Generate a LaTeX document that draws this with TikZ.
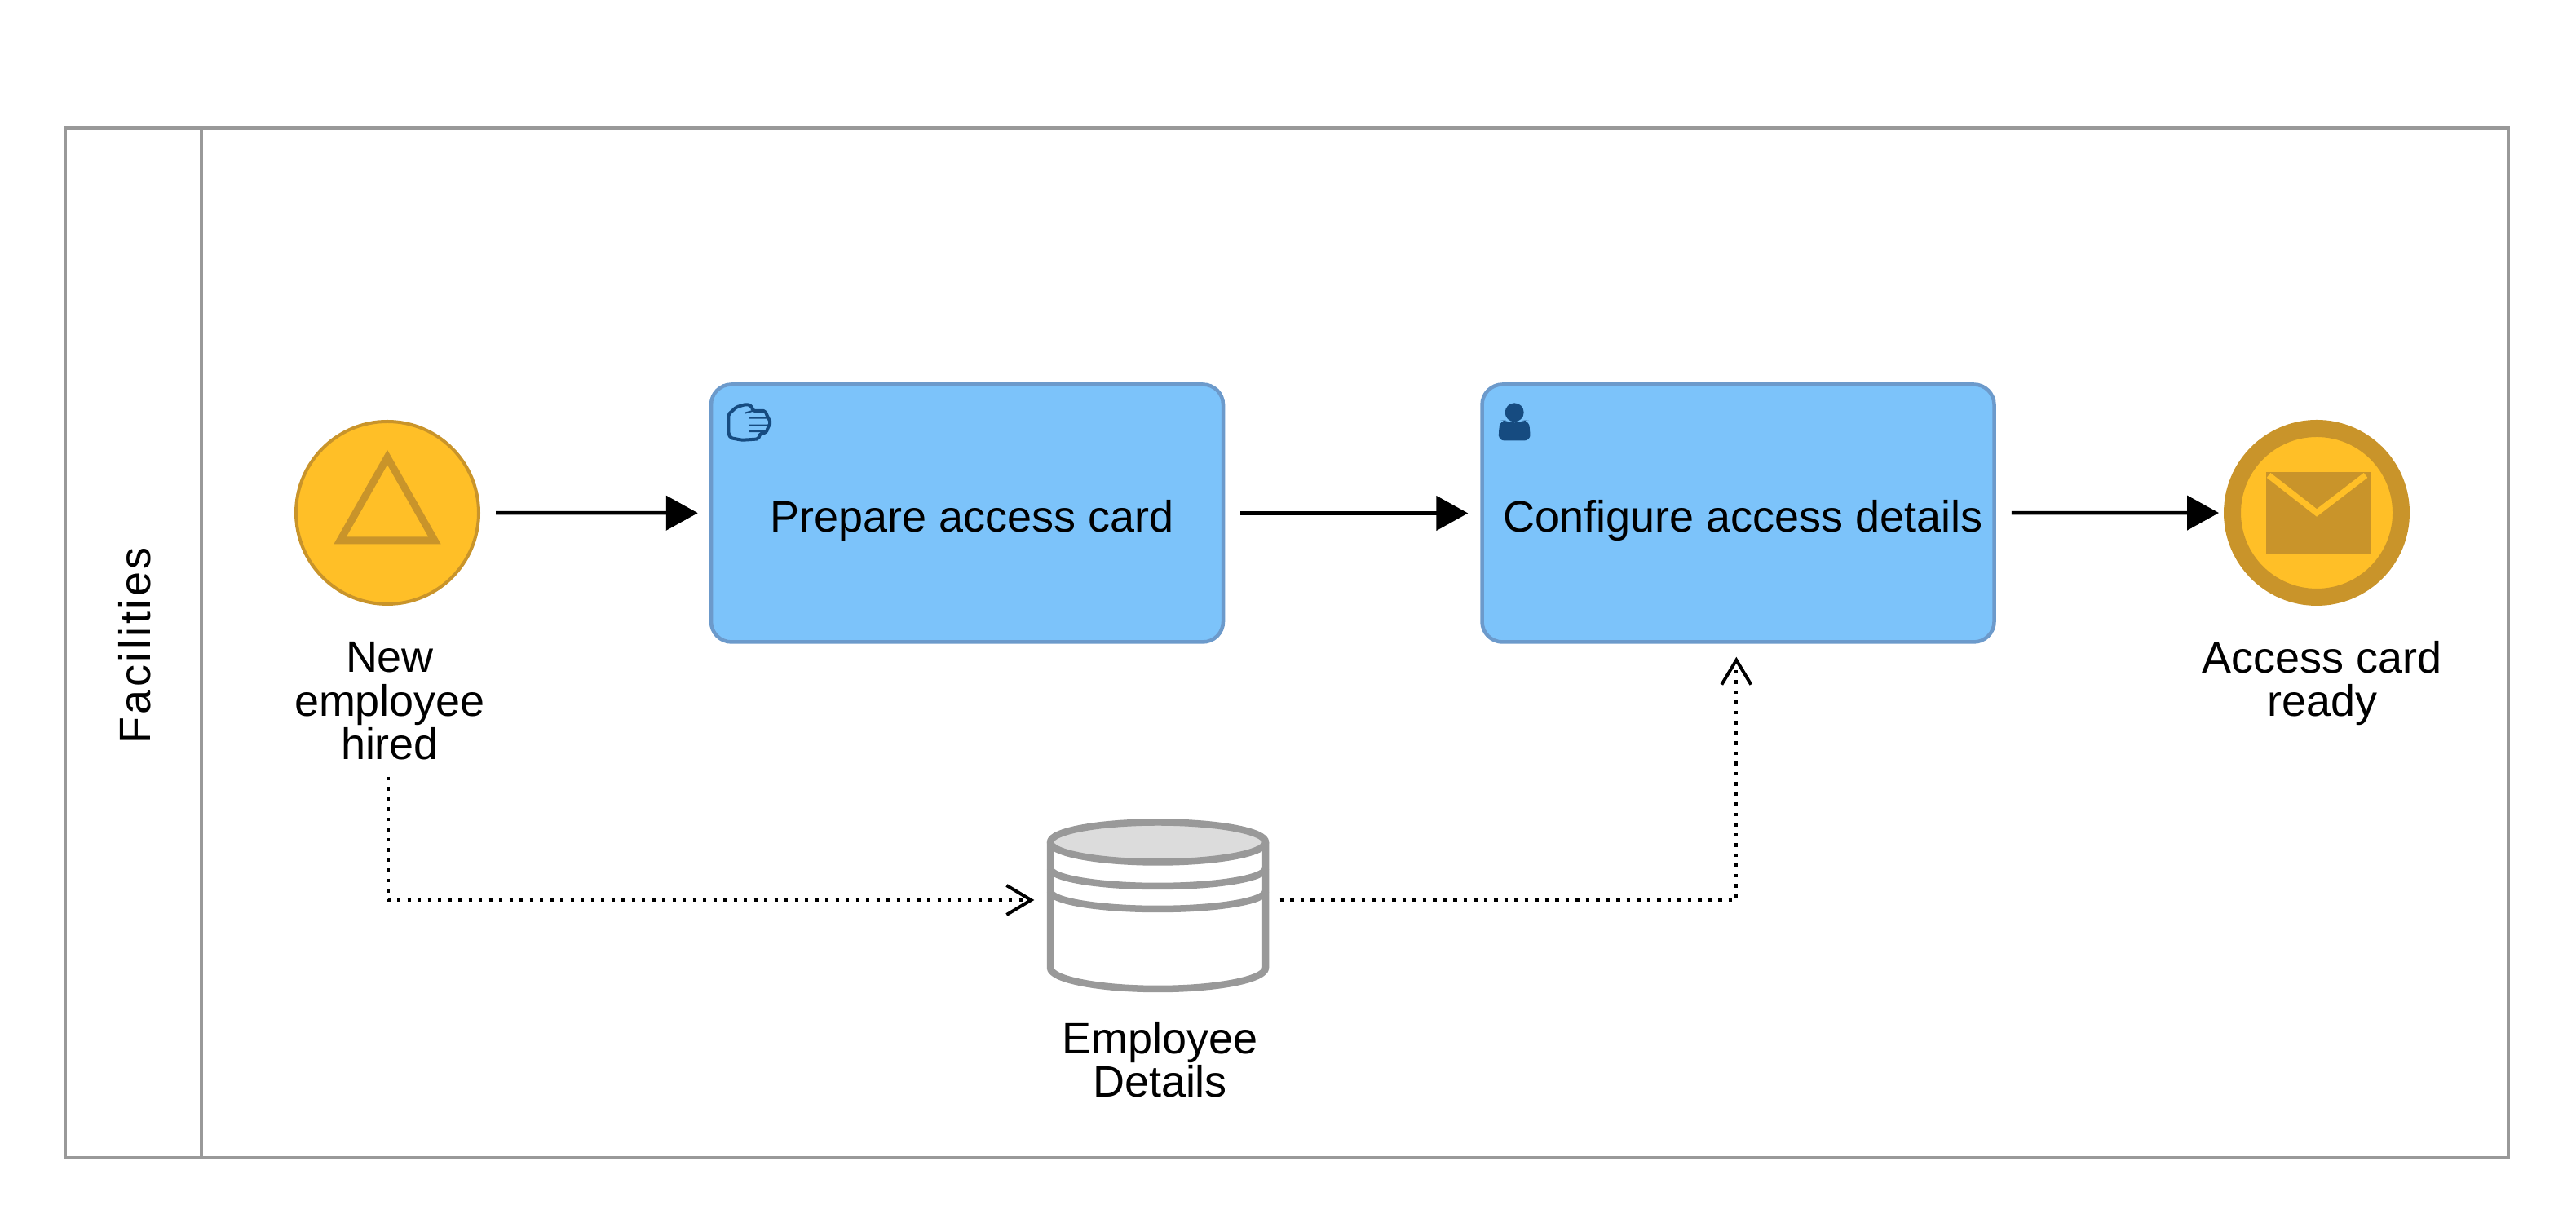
\documentclass[tikz,border=0pt]{standalone}
\usetikzlibrary{arrows.meta, positioning}
\usepackage{fontspec}
\setmainfont{Liberation Sans}
\definecolor{lanegray}{HTML}{999999}
\definecolor{taskblue}{HTML}{7CC3FA}
\definecolor{taskline}{HTML}{6C9ACB}
\definecolor{icondark}{HTML}{164B80}
\definecolor{eventfill}{HTML}{FFBF27}
\definecolor{eventline}{HTML}{C9942A}
\definecolor{storetop}{HTML}{DCDCDC}

\begin{document}
\begin{tikzpicture}[
  lane/.style={draw=lanegray, line width=0.04cm, inner sep=0pt},
  task/.style={draw=taskline, fill=taskblue, line width=0.045cm, rounded corners=0.25cm,
    minimum width=6.28cm, minimum height=3.16cm, inner sep=0pt,
    text height=0.57cm, text depth=0.113cm, execute at begin node=\hspace*{0.12cm},
    align=center, font=\fontsize{15.35}{15.2}\selectfont},
  event/.style={circle, draw=eventline, fill=eventfill, inner sep=0pt},
  lbl/.style={align=center, inner sep=0pt, font=\fontsize{15.35}{15.2}\selectfont},
  flow/.style={-{Triangle[length=0.39cm, width=0.42cm]}, line width=0.045cm},
  assoc/.style={-{Straight Barb[length=0.30cm, width=0.36cm, line width=0.04cm]},
    line width=0.043cm, dash pattern=on 0.043cm off 0.082cm},
  storeline/.style={draw=lanegray, line width=0.085cm, line join=round},
]
\useasboundingbox (0,0) rectangle (31.59,15.05);
% lane
\node[lane, minimum width=29.96cm, minimum height=12.63cm] (pool) at (15.78, 7.165) {};
\node[lane, minimum width=1.67cm, minimum height=12.63cm] (header) at (1.635, 7.165) {};
\node[rotate=90, inner sep=0pt,
  font=\fontsize{15.35}{16}\selectfont\addfontfeature{LetterSpace=6.5}] (facilities)
  at (1.655, 7.13) {Facilities};
% events
\node[event, line width=0.04cm, minimum size=2.24cm] (start) at (4.75, 8.76) {};
\draw[eventline, line width=0.09cm, miter limit=10]
  (4.75, 9.44) -- (5.33, 8.42) -- (4.17, 8.42) -- cycle;
\node[event, line width=0.21cm, minimum size=2.07cm] (finish) at (28.41, 8.76) {};
\fill[eventline] (27.79, 9.26) rectangle (29.08, 8.26);
\draw[eventfill, line width=0.075cm] (27.82, 9.22) -- (28.41, 8.76) -- (29.01, 9.22);
% tasks
\node[task] (prepare) at (11.86, 8.755) {Prepare access card};
\node[task] (configure) at (21.315, 8.755) {Configure access details};
% manual task icon
\begin{scope}[shift={(8.6, 10.45)}, x=0.00333cm, y=-0.00333cm]
  \draw[icondark, line width=0.04cm, rounded corners=0.02cm, line join=round]
    (100,145) -- (130,118) -- (165,108) -- (185,113) -- (190,132) -- (235,132)
    -- (245,155) -- (256,175) -- (245,195) -- (240,212) -- (218,215) -- (210,236)
    -- (150,240) -- (108,232) -- (100,215) -- cycle;
  \draw[icondark, line width=0.02cm] (178,158) -- (245,158) (178,185) -- (250,185)
    (178,208) -- (240,208) (162,140) -- (190,132);
\end{scope}
% user task icon
\begin{scope}[shift={(17.8, 10.55)}, x=0.00333cm, y=-0.00333cm]
  \fill[icondark] (232,168) circle[radius=0.115cm];
  \fill[icondark, rounded corners=0.07cm] (174,272) -- (174,235) -- (180,198) -- (200,197)
    -- (232,210) -- (264,197) -- (284,198) -- (290,235) -- (290,272) -- cycle;
\end{scope}
% data store
\node[inner sep=0pt, minimum width=2.72cm, minimum height=2cm] (store) at (14.20, 4.01) {};
\draw[storeline, fill=white] (12.88, 4.72) -- (12.88, 3.18)
  arc[start angle=180, end angle=360, x radius=1.32, y radius=0.26] -- (15.52, 4.72);
\draw[storeline] (12.88, 4.40) arc[start angle=180, end angle=360, x radius=1.32, y radius=0.22];
\draw[storeline] (12.88, 4.12) arc[start angle=180, end angle=360, x radius=1.32, y radius=0.22];
\draw[storeline, fill=storetop] (14.20, 4.72) ellipse[x radius=1.32, y radius=0.245];
% labels
\node[lbl] (startlbl) at (4.78, 6.45) {New\\employee\\hired};
\node[lbl] (finishlbl) at (28.475, 6.67) {Access card\\ready};
\node[lbl] (storelbl) at (14.225, 2.05) {Employee\\Details};
% sequence flows
\draw[flow, shorten <=0.19cm, shorten >=0.14cm] (start) -- (prepare);
\draw[flow, shorten <=0.19cm, shorten >=0.15cm] (prepare) -- (configure);
\draw[flow, shorten <=0.19cm, shorten >=0.06cm] (configure) -- (finish);
% data associations
\draw[assoc, shorten <=0.2cm, shorten >=0.15cm] ([xshift=-0.023cm]startlbl.south) |- (store.west);
\draw[assoc, shorten <=0.13cm, shorten >=0.16cm] (store.east) -| ([xshift=-0.022cm]configure.south);
\end{tikzpicture}
\end{document}
